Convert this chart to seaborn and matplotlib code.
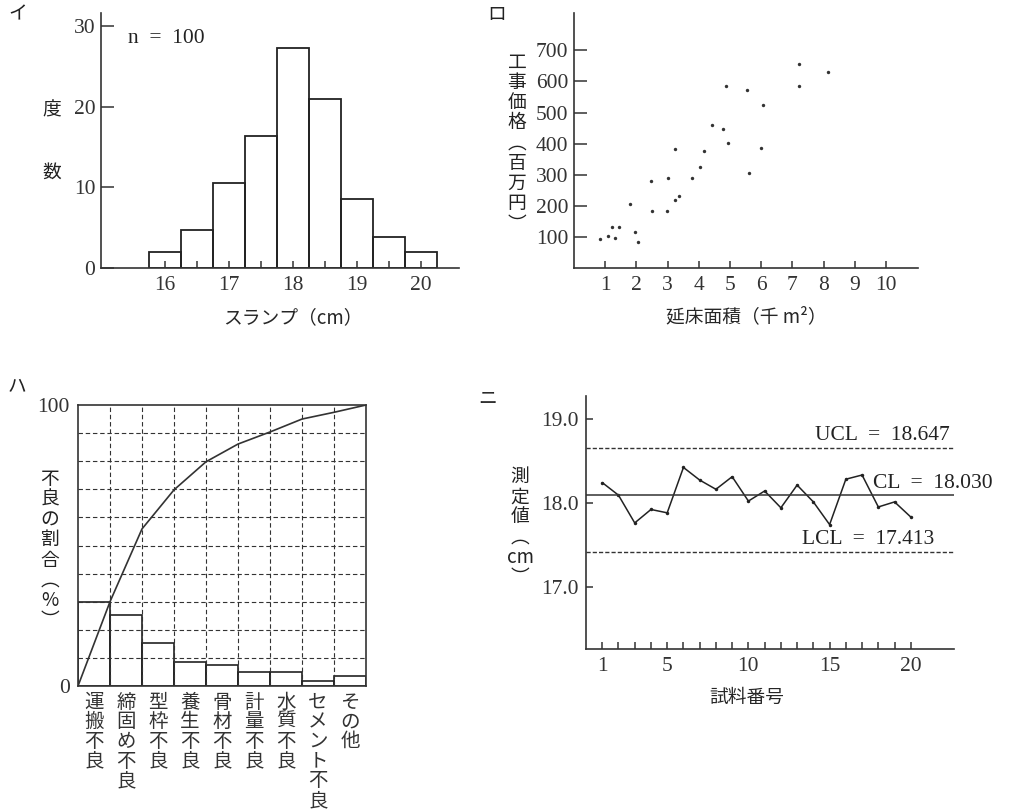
import numpy as np
import pandas as pd
import seaborn as sns
import matplotlib
matplotlib.use("Agg")
import matplotlib.pyplot as plt

# イ: ヒストグラム (スランプ)
slump_centers = [16.0, 16.5, 17.0, 17.5, 18.0, 18.5, 19.0, 19.5, 20.0]
slump_counts = [2.0, 4.7, 10.5, 16.4, 27.3, 20.9, 8.5, 3.9, 2.0]

# ロ: 散布図 (延床面積 vs 工事価格)
area = [0.82, 1.10, 1.21, 1.32, 1.44, 1.81, 1.95, 2.05, 2.46, 2.51, 2.97, 3.02,
        3.23, 3.24, 3.38, 3.77, 4.05, 4.16, 4.44, 4.77, 4.88, 4.94, 5.55, 5.60,
        6.01, 6.06, 7.20, 7.23, 8.15]
price = [92, 104, 133, 98, 133, 205, 117, 83, 281, 183, 183, 290,
         384, 218, 230, 288, 324, 375, 459, 446, 584, 401, 572, 307,
         387, 523, 586, 657, 630]

# ハ: パレート図
causes = ["運搬不良", "締固め不良", "型枠不良", "養生不良", "骨材不良",
          "計量不良", "水質不良", "セメント不良", "その他"]
cause_pct = [30.0, 25.1, 15.2, 8.4, 7.5, 4.9, 5.0, 1.8, 3.4]
cum_pct = [0, 30.0, 55.9, 69.8, 79.8, 86.1, 90.4, 95.0, 97.4, 100.0]

# ニ: 管理図
sample_no = list(range(1, 21))
measured = [18.24, 18.09, 17.76, 17.92, 17.88, 18.42, 18.27, 18.16, 18.31, 18.02,
            18.14, 17.94, 18.21, 18.01, 17.74, 18.28, 18.33, 17.95, 18.01, 17.83]
ucl, cl_line, lcl = 18.647, 18.09, 17.413

sns.set_theme(style="ticks")
plt.rcParams['font.family'] = ['Liberation Serif', 'Noto Sans CJK JP']
plt.rcParams['axes.linewidth'] = 1.2
plt.rcParams['xtick.direction'] = 'in'
plt.rcParams['ytick.direction'] = 'in'
plt.rcParams['xtick.color'] = '#333333'
plt.rcParams['ytick.color'] = '#333333'
plt.rcParams['axes.edgecolor'] = '#333333'
plt.rcParams['text.color'] = '#222222'

W, H = 1016, 811
FS_NUM = 15.5
FS_JP = 13.5
LS = 0.95
JP = ['Noto Sans CJK JP']

fig = plt.figure(figsize=(W / 100, H / 100), dpi=100)


def box(l, t, r, b):
    return [l / W, 1 - b / H, (r - l) / W, (b - t) / H]


def tate(s):
    # 縦書き: 1文字ずつ改行、括弧は縦用、英字はまとめる
    s = s.replace("（", "︵").replace("）", "︶")
    lines = []
    for ch in s:
        if ch.isascii() and ch.isalpha() and lines and lines[-1].isascii() and lines[-1].isalpha():
            lines[-1] += ch
        else:
            lines.append(ch)
    return "\n".join(lines)


# ---- イ ----
ax1 = fig.add_axes(box(101, 13, 459, 268))
sns.histplot(x=slump_centers, weights=slump_counts, binwidth=0.5, binrange=(15.75, 20.25),
             fill=False, color='#222222', linewidth=1.3, ax=ax1)
ax1.set_xlim(15.0, 20.6)
ax1.set_ylim(0, 31.6)
ax1.set_xticks([16, 17, 18, 19, 20])
ax1.set_xticks([16.5, 17.5, 18.5, 19.5], minor=True)
ax1.set_yticks([0, 10, 20, 30])
ax1.tick_params(axis='x', which='both', length=5, width=1.1, labelsize=FS_NUM, pad=6)
ax1.tick_params(axis='y', length=9, width=1.1, labelsize=FS_NUM, pad=4)
ax1.set_ylabel("")
ax1.set_xlabel("スランプ（cm）", family=JP, fontsize=FS_JP)
ax1.xaxis.set_label_coords(0.536, -0.155)
sns.despine(ax=ax1)
ax1.text(15.42, 28.4, "n  =  100", fontsize=FS_NUM, va='center')
fig.text(52 / W, 1 - 110 / H, "度", family=JP, fontsize=FS_JP, ha='center', va='center')
fig.text(52 / W, 1 - 172 / H, "数", family=JP, fontsize=FS_JP, ha='center', va='center')
fig.text(8 / W, 1 - 14 / H, "イ", family=JP, fontsize=FS_JP, ha='left', va='center')

# ---- ロ ----
ax2 = fig.add_axes(box(574, 13, 918, 268))
sns.scatterplot(x=area, y=price, color='#333333', s=6, linewidth=0, ax=ax2)
ax2.set_xlim(0, 11.03)
ax2.set_ylim(0, 820)
ax2.set_xticks(range(1, 11))
ax2.set_yticks(range(100, 701, 100))
ax2.tick_params(axis='x', length=5, width=1.1, labelsize=FS_NUM, pad=6)
ax2.tick_params(axis='y', length=9, width=1.1, labelsize=FS_NUM, pad=4)
ax2.set_xlabel("延床面積（千 m²）", family=JP, fontsize=FS_JP)
ax2.xaxis.set_label_coords(0.5, -0.15)
sns.despine(ax=ax2)
fig.text(517 / W, 1 - 143 / H, tate("工事価格（百万円）"), family=JP, fontsize=FS_JP,
         ha='center', va='center', linespacing=LS)
fig.text(487 / W, 1 - 14 / H, "ロ", family=JP, fontsize=FS_JP, ha='left', va='center')

# ---- ハ ----
ax3 = fig.add_axes(box(78, 405, 366, 686))
pareto = pd.DataFrame({'cause': causes, 'pct': cause_pct})
sns.barplot(data=pareto, x='cause', y='pct', width=1.0, fill=False, color='#222222',
            linewidth=1.2, ax=ax3)
sns.lineplot(x=np.arange(len(cum_pct)) - 0.5, y=cum_pct, color='#333333', linewidth=1.2, ax=ax3)
ax3.set_xlim(-0.5, len(causes) - 0.5)
ax3.set_ylim(0, 100)
ax3.set_yticks([0, 100])
ax3.set_yticks(range(10, 100, 10), minor=True)
ax3.set_xticks(range(len(causes)))
ax3.set_xticks(np.arange(len(causes) - 1) + 0.5, minor=True)
ax3.set_xticklabels([tate(c) for c in causes], family=JP, fontsize=14, linespacing=0.92)
ax3.tick_params(axis='both', which='both', length=0)
ax3.tick_params(axis='y', labelsize=FS_NUM, pad=6)
ax3.tick_params(axis='x', pad=4)
ax3.grid(which='minor', linestyle=(0, (4, 2.5)), color='#333333', linewidth=0.8)
ax3.set_axisbelow(False)
ax3.set_xlabel("")
ax3.set_ylabel("")
fig.text(50 / W, 1 - 550 / H, tate("不良の割合（%）"), family=JP, fontsize=FS_JP,
         ha='center', va='center', linespacing=LS)
fig.text(8 / W, 1 - 386 / H, "ハ", family=JP, fontsize=FS_JP, ha='left', va='center')

# ---- ニ ----
ax4 = fig.add_axes(box(586, 396, 954, 649))
sns.lineplot(x=sample_no, y=measured, color='#222222', linewidth=1.1, marker='o',
             markersize=2.5, markeredgewidth=0, ax=ax4)
ax4.axhline(ucl, color='#333333', linestyle=(0, (3, 1.5)), linewidth=1.0)
ax4.axhline(cl_line, color='#333333', linewidth=1.1)
ax4.axhline(lcl, color='#333333', linestyle=(0, (3, 1.5)), linewidth=1.0)
ax4.set_xlim(0, 22.66)
ax4.set_ylim(16.26, 19.27)
ax4.set_xticks([1, 5, 10, 15, 20])
ax4.set_xticks(sample_no, minor=True)
ax4.set_yticks([17.0, 18.0, 19.0])
ax4.set_yticklabels(["17.0", "18.0", "19.0"])
ax4.tick_params(axis='x', which='both', length=5, width=1.1, labelsize=FS_NUM, pad=6)
ax4.tick_params(axis='y', length=5, width=1.1, labelsize=FS_NUM, pad=5)
ax4.set_xlabel("試料番号", family=JP, fontsize=FS_JP)
ax4.xaxis.set_label_coords(0.438, -0.15)
ax4.set_ylabel("")
sns.despine(ax=ax4)
fig.text(815 / W, 1 - 436 / H, "UCL  =  18.647", fontsize=FS_NUM, ha='left', va='center')
fig.text(873 / W, 1 - 484 / H, "CL  =  18.030", fontsize=FS_NUM, ha='left', va='center')
fig.text(802 / W, 1 - 539 / H, "LCL  =  17.413", fontsize=FS_NUM, ha='left', va='center')
fig.text(520 / W, 1 - 527 / H, tate("測定値（cm）"), family=JP, fontsize=FS_JP,
         ha='center', va='center', linespacing=LS)
fig.text(478 / W, 1 - 398 / H, "ニ", family=JP, fontsize=FS_JP, ha='left', va='center')

fig.savefig("out.png", dpi=100)
